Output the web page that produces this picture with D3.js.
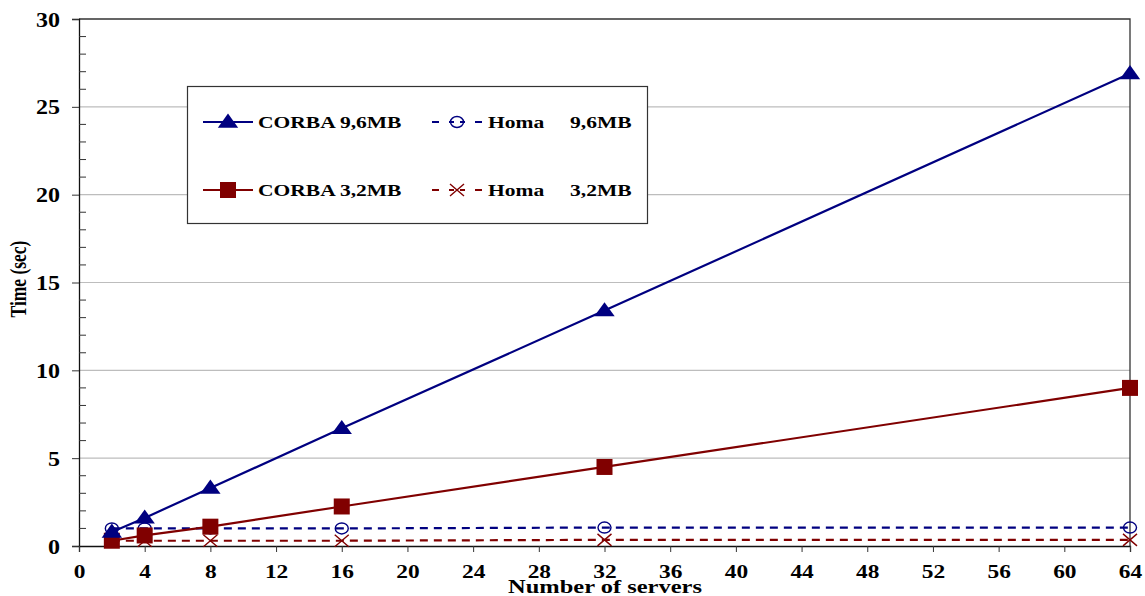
<!DOCTYPE html>
<html><head><meta charset="utf-8">
<script src="https://cdn.jsdelivr.net/npm/d3@7"></script>
<style>body{margin:0;background:#fff}svg{display:block}</style>
</head><body>
<svg id="c" width="1145" height="596"></svg>
<script>
const servers = [2, 4, 8, 16, 32, 64];
const corba96 = [0.8, 1.6, 3.3, 6.7, 13.4, 26.9];
const corba32 = [0.3, 0.6, 1.1, 2.25, 4.5, 9.0];
const homa96  = [1.0, 1.0, 1.0, 1.0, 1.05, 1.05];
const homa32  = [0.3, 0.3, 0.3, 0.3, 0.35, 0.35];
const xTicks = d3.range(0, 65, 4);
const yTicks = [0, 5, 10, 15, 20, 25, 30];
const seriesNames = ["CORBA 9,6MB", "Homa", "CORBA 3,2MB", "Homa"];
const homaSizes = ["9,6MB", "3,2MB"];

const NAVY = "#000080", MAROON = "#800000";
const FONT = "'Liberation Serif','Times New Roman',serif";
const svg = d3.select("#c");
const x = d3.scaleLinear().domain([0, 64]).range([79, 1130]);
const y = d3.scaleLinear().domain([0, 30]).range([546, 19]);

// gridlines
svg.append("g").selectAll("line").data(yTicks.filter(v => v > 0 && v < 30)).join("line")
  .attr("x1", x(0)).attr("x2", x(64)).attr("y1", d => y(d)).attr("y2", d => y(d))
  .attr("stroke", "#bdbdbd").attr("stroke-width", 1.2);
// top + right border
svg.append("path").attr("d", `M${x(0)},${y(30)}H${x(64)}V${y(0)}`)
  .attr("fill", "none").attr("stroke", "#333").attr("stroke-width", 1.3);

// y axis
const yAxis = svg.append("g").attr("transform", `translate(${x(0)},0)`)
  .call(d3.axisLeft(y).tickValues(yTicks).tickSize(7).tickFormat(d3.format("d")));
yAxis.select(".domain").attr("stroke", "#111").attr("stroke-width", 1.3);
yAxis.selectAll(".tick line").attr("stroke", "#333");
yAxis.selectAll(".tick text").attr("font-family", FONT).attr("font-weight", "bold")
  .attr("font-size", 20).attr("fill", "#000").attr("x", -19 / 1.2).attr("dy", "0.35em")
  .attr("transform", "scale(1.2,1)");
// y minor ticks (inside)
svg.append("g").selectAll("line").data(d3.range(0, 31).filter(v => v % 5 !== 0)).join("line")
  .attr("x1", x(0)).attr("x2", x(0) + 7).attr("y1", d => y(d)).attr("y2", d => y(d))
  .attr("stroke", "#333");

// x axis
const xAxis = svg.append("g").attr("transform", `translate(0,${y(0)})`)
  .call(d3.axisBottom(x).tickValues(xTicks).tickSize(6).tickFormat(d3.format("d")));
xAxis.select(".domain").attr("stroke", "#111").attr("stroke-width", 1.3);
xAxis.selectAll(".tick line").attr("stroke", "#333");
xAxis.selectAll(".tick text").attr("font-family", FONT).attr("font-weight", "bold")
  .attr("font-size", 19.5).attr("fill", "#000").attr("y", 32).attr("dy", 0)
  .attr("transform", "scale(1.2,1)");

// axis titles
svg.append("text").attr("transform", "translate(605,593) scale(1.36,1)")
  .attr("text-anchor", "middle").attr("font-family", FONT).attr("font-weight", "bold")
  .attr("font-size", 18).text("Number of servers");
svg.append("text").attr("transform", "translate(26,279) rotate(-90) scale(1,1.3)")
  .attr("text-anchor", "middle").attr("font-family", FONT).attr("font-weight", "bold")
  .attr("font-size", 17.5).text("Time (sec)");

// marker drawers
function marker(g, type, color) {
  if (type === "tri") {
    g.append("path").attr("d", d3.symbol(d3.symbolTriangle, 115)()).attr("transform", "translate(0,1) scale(1.25,1)").attr("fill", color);
  } else if (type === "sq") {
    g.append("rect").attr("x", -8).attr("y", -8).attr("width", 16).attr("height", 16).attr("fill", color);
  } else if (type === "circ") {
    g.append("ellipse").attr("rx", 6.5).attr("ry", 5.5).attr("fill", "none").attr("stroke", color).attr("stroke-width", 1.4);
  } else if (type === "x") {
    g.append("path").attr("d", "M-7,-6L7,6M-7,6L7,-6").attr("stroke", color).attr("stroke-width", 1.4).attr("fill", "none");
  }
}

const series = [
  {vals: homa96, color: NAVY, dash: "8,6", mk: "circ"},
  {vals: homa32, color: MAROON, dash: "8,6", mk: "x"},
  {vals: corba32, color: MAROON, dash: null, mk: "sq"},
  {vals: corba96, color: NAVY, dash: null, mk: "tri"},
];
const line = d3.line().x(d => x(d[0])).y(d => y(d[1]));
series.forEach(s => {
  const pts = servers.map((v, i) => [v, s.vals[i]]);
  svg.append("path").attr("d", line(pts)).attr("fill", "none").attr("stroke", s.color)
    .attr("stroke-width", 2.2).attr("stroke-dasharray", s.dash);
  pts.forEach(p => {
    const g = svg.append("g").attr("transform", `translate(${x(p[0])},${y(p[1])})`);
    marker(g, s.mk, s.color);
  });
});

// legend
const lg = svg.append("g");
lg.append("rect").attr("x", 187.5).attr("y", 86.5).attr("width", 460).attr("height", 137)
  .attr("fill", "#fff").attr("stroke", "#333").attr("stroke-width", 1.2);
const legendItems = [
  {name: seriesNames[0], color: NAVY, dash: null, mk: "tri", col: 0, row: 0},
  {name: seriesNames[1], size: homaSizes[0], color: NAVY, dash: "5,4", mk: "circ", col: 1, row: 0},
  {name: seriesNames[2], color: MAROON, dash: null, mk: "sq", col: 0, row: 1},
  {name: seriesNames[3], size: homaSizes[1], color: MAROON, dash: "5,4", mk: "x", col: 1, row: 1},
];
legendItems.forEach(it => {
  const cy = it.row === 0 ? 122 : 190;
  const x0 = it.col === 0 ? 203 : 432;
  if (it.dash) {
    [[0, 7], [17, 22], [28, 33], [43, 50]].forEach(([a, b]) => {
      lg.append("line").attr("x1", x0 + a).attr("x2", x0 + b).attr("y1", cy).attr("y2", cy)
        .attr("stroke", it.color).attr("stroke-width", 2);
    });
  } else {
    lg.append("line").attr("x1", x0).attr("x2", x0 + 50).attr("y1", cy).attr("y2", cy)
      .attr("stroke", it.color).attr("stroke-width", 2);
  }
  const g = lg.append("g").attr("transform", `translate(${x0 + 25},${cy})`);
  marker(g, it.mk, it.color);
  const tx = it.col === 0 ? 258 : 488;
  lg.append("text").attr("transform", `translate(${tx},${cy + 6}) scale(1.23,1)`)
    .attr("font-family", FONT).attr("font-weight", "bold").attr("font-size", 17.5).text(it.name);
  if (it.size) {
    lg.append("text").attr("transform", `translate(570,${cy + 6}) scale(1.23,1)`)
      .attr("font-family", FONT).attr("font-weight", "bold").attr("font-size", 17.5).text(it.size);
  }
});
</script>
</body></html>
